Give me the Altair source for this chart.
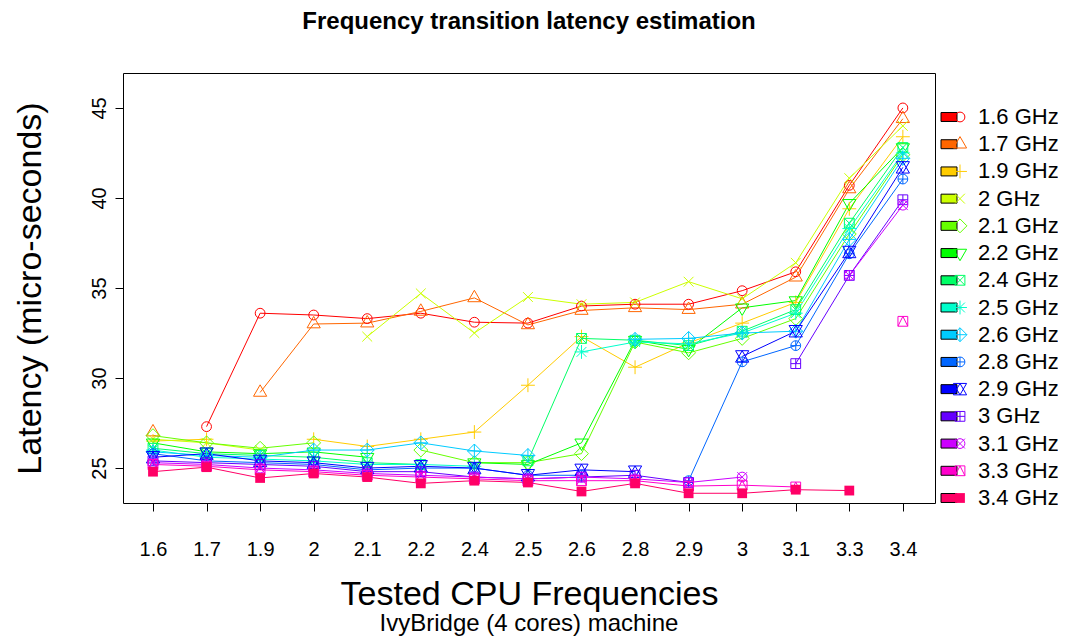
import json
import pandas as pd
import altair as alt

# ---------------- data ----------------
freq_labels = ["1.6", "1.7", "1.9", "2", "2.1", "2.2", "2.4", "2.5",
               "2.6", "2.8", "2.9", "3", "3.1", "3.3", "3.4"]
series_names = [f + " GHz" for f in freq_labels]

series_colors = ["#FF0000", "#FF6600", "#FFCC00", "#CCFF00", "#66FF00",
                 "#00FF00", "#00FF66", "#00FFCC", "#00CCFF", "#0066FF",
                 "#0000FF", "#6600FF", "#CC00FF", "#FF00CC", "#FF0066"]

# R pch 1..15 drawn as SVG paths (unit = symbol radius)
CIRC = "M1,0A1,1,0,1,1,-1,0A1,1,0,1,1,1,0Z"
series_shapes = [
    CIRC,                                                        # pch 1
    "M0,-1.555L1.347,0.778L-1.347,0.778Z",                        # pch 2
    "M-1.414,0H1.414M0,-1.414V1.414",                             # pch 3
    "M-1,-1L1,1M-1,1L1,-1",                                       # pch 4
    "M0,-1.414L1.414,0L0,1.414L-1.414,0Z",                        # pch 5
    "M0,1.555L1.347,-0.778L-1.347,-0.778Z",                       # pch 6
    "M-1,-1H1V1H-1ZM-1,-1L1,1M-1,1L1,-1",                         # pch 7
    "M-1,-1L1,1M-1,1L1,-1M-1.414,0H1.414M0,-1.414V1.414",         # pch 8
    "M0,-1.414L1.414,0L0,1.414L-1.414,0ZM-1.414,0H1.414M0,-1.414V1.414",  # pch 9
    CIRC + "M-1,0H1M0,-1V1",                                      # pch 10
    "M0,-1.166L1.347,1.166L-1.347,1.166ZM0,1.166L1.347,-1.166L-1.347,-1.166Z",  # pch 11
    "M-1,-1H1V1H-1ZM-1,0H1M0,-1V1",                               # pch 12
    CIRC + "M-1,-1L1,1M-1,1L1,-1",                                # pch 13
    "M-1,-1H1V1H-1ZM-1,1L0,-1L1,1",                               # pch 14
    "M-1,-1H1V1H-1Z",                                             # pch 15 (filled)
]

lat_1_6 = [None, 27.3, 33.6, 33.5, 33.3, 33.6, 33.1, 33.05, 34.0, 34.1, 34.1, 34.85, 35.9, 40.7, 45.0]
lat_1_7 = [27.0, None, 29.2, 33.0, 33.05, 33.7, 34.45, 32.95, 33.75, 33.9, 33.8, 34.1, 35.6, 40.5, 44.4]
lat_1_9 = [26.5, 26.6, None, 26.6, 26.2, 26.6, 27.0, 29.6, 32.3, 30.6, 31.95, 33.05, 34.2, 39.4, 43.4]
lat_2_0 = [26.6, 26.4, 26.0, None, 32.3, 34.7, 32.5, 34.5, 34.1, 34.2, 35.35, 34.4, 36.4, 41.1, 44.0]
lat_2_1 = [26.8, 26.4, 26.1, 26.4, None, 26.0, 25.3, 25.3, 25.8, 32.0, 31.4, 32.2, 33.3, 38.0, 42.4]
lat_2_2 = [26.4, 25.9, 25.8, 25.9, 25.6, None, 25.3, 25.2, 26.4, 32.1, 31.6, 33.9, 34.3, 39.7, 42.8]
lat_2_4 = [26.1, 25.8, 25.7, 25.6, 25.3, 25.2, None, 25.4, 32.2, 32.1, 31.8, 32.6, 33.8, 38.6, 42.8]
lat_2_5 = [26.0, 25.6, 25.5, 25.4, 25.2, 25.2, 25.1, None, 31.45, 32.0, 31.9, 32.5, 33.6, 38.3, 42.5]
lat_2_6 = [25.9, 25.7, 25.6, 26.0, 26.0, 26.4, 25.95, 25.7, None, 32.15, 32.2, 32.5, 32.6, 37.7, 42.2]
lat_2_8 = [25.8, 25.4, 25.3, 25.2, 24.9, 25.0, 25.0, 24.6, 24.6, None, 24.3, 30.9, 31.8, 36.9, 41.05]
lat_2_9 = [25.6, 25.8, 25.4, 25.3, 25.0, 25.1, 25.0, 24.6, 24.9, 24.8, None, 31.2, 32.6, 37.0, 41.7]
lat_3_0 = [25.4, 25.3, 25.2, 25.1, 24.8, 24.8, 24.5, 24.4, 24.5, 24.6, 24.2, None, 30.8, 35.7, 39.9]
lat_3_1 = [25.3, 25.2, 25.0, 24.9, 24.7, 24.6, 24.5, 24.4, 24.5, 24.4, 24.2, 24.5, None, 35.7, 39.6]
lat_3_3 = [25.2, 25.1, 24.9, 24.8, 24.6, 24.5, 24.4, 24.3, 24.3, 24.3, 24.0, 24.05, 23.95, None, 33.15]
lat_3_4 = [24.8, 25.05, 24.45, 24.7, 24.5, 24.15, 24.3, 24.2, 23.7, 24.15, 23.6, 23.6, 23.8, 23.75, None]

latency = [lat_1_6, lat_1_7, lat_1_9, lat_2_0, lat_2_1, lat_2_2, lat_2_4, lat_2_5,
           lat_2_6, lat_2_8, lat_2_9, lat_3_0, lat_3_1, lat_3_3, lat_3_4]

y_ticks = [25, 30, 35, 40, 45]

# ---------------- tables ----------------
rows = []
for si, (name, vals) in enumerate(zip(series_names, latency)):
    for xi, v in enumerate(vals):
        rows.append({"series": name, "sidx": si, "xi": xi, "latency": v})
df = pd.DataFrame(rows)
df_leg = pd.DataFrame({"series": series_names, "sidx": list(range(len(series_names)))})
df_sub = pd.DataFrame({"t": ["IvyBridge (4 cores) machine"]})

FONT = "Liberation Sans"
W, H = 812, 430
FILLED = series_names[-1]

cscale = alt.Scale(domain=series_names, range=series_colors)
sscale = alt.Scale(domain=series_names, range=series_shapes)

x_enc = alt.X(
    "xi:Q",
    scale=alt.Scale(domain=[-0.56, 14.6], nice=False, zero=False),
    axis=alt.Axis(
        values=list(range(len(freq_labels))),
        labelExpr=json.dumps(freq_labels) + "[datum.value]",
        title="Tested CPU Frequencies",
        titleFontSize=34, titleFontWeight="normal", titleFont=FONT,
        titleX=W / 2, titleY=91, titleAlign="center", titleBaseline="middle",
        labelFontSize=20, labelFont=FONT, labelPadding=28, tickSize=8,
        labelFlush=False, labelOverlap=False,
    ),
)
y_enc = alt.Y(
    "latency:Q",
    scale=alt.Scale(domain=[23.06, 46.94], nice=False, zero=False),
    axis=alt.Axis(
        values=y_ticks,
        title="Latency (micro-seconds)",
        titleFontSize=34, titleFontWeight="normal", titleFont=FONT,
        titleAngle=270, titleX=-93, titleY=H / 2, titleAlign="center",
        titleBaseline="middle",
        labelAngle=270, labelAlign="center", labelBaseline="bottom",
        labelFontSize=20, labelFont=FONT, labelPadding=6, tickSize=8,
        labelFlush=False,
    ),
)

lines = alt.Chart(df).mark_line(strokeWidth=1).encode(
    x=x_enc, y=y_enc,
    color=alt.Color("series:N", scale=cscale, legend=None),
    order=alt.Order("xi:Q"),
)
pts_open = alt.Chart(df).transform_filter(alt.datum.series != FILLED).mark_point(
    filled=False, opacity=1, strokeWidth=1, size=96
).encode(
    x=x_enc, y=y_enc,
    color=alt.Color("series:N", scale=cscale, legend=None),
    shape=alt.Shape("series:N", scale=sscale, legend=None),
    order=alt.Order("sidx:Q"),
)
pts_fill = alt.Chart(df).transform_filter(alt.datum.series == FILLED).mark_point(
    filled=True, opacity=1, size=96, shape=series_shapes[-1]
).encode(
    x=x_enc, y=y_enc,
    fill=alt.Fill("series:N", scale=cscale, legend=None),
)
main = alt.layer(lines, pts_open, pts_fill)

# ---------------- legend (R style) ----------------
leg_y = alt.Y("sidx:Q", scale=alt.Scale(domain=[0, 14], range=[44, 425]), axis=None)
RECT = "M-1,-0.56H1V0.56H-1Z"
leg_rect = alt.Chart(df_leg).mark_point(
    shape=RECT, filled=True, size=256, stroke="black", strokeWidth=1, opacity=1
).encode(
    x=alt.value(826), y=leg_y,
    fill=alt.Fill("series:N", scale=cscale, legend=None),
)
leg_sym = alt.Chart(df_leg).transform_filter(alt.datum.series != FILLED).mark_point(
    filled=False, opacity=1, strokeWidth=1, size=96
).encode(
    x=alt.value(837), y=leg_y,
    color=alt.Color("series:N", scale=cscale, legend=None),
    shape=alt.Shape("series:N", scale=sscale, legend=None),
)
leg_symf = alt.Chart(df_leg).transform_filter(alt.datum.series == FILLED).mark_point(
    filled=True, opacity=1, size=96, shape=series_shapes[-1]
).encode(
    x=alt.value(837), y=leg_y,
    fill=alt.Fill("series:N", scale=cscale, legend=None),
)
leg_text = alt.Chart(df_leg).mark_text(
    align="left", baseline="middle", fontSize=22, font=FONT, color="black"
).encode(x=alt.value(855), y=leg_y, text="series:N")
legend = alt.layer(leg_rect, leg_sym, leg_symf, leg_text)

sub = alt.Chart(df_sub).mark_text(
    align="center", baseline="middle", fontSize=24, font=FONT, color="black"
).encode(x=alt.value(W / 2), y=alt.value(H + 121), text="t:N")

chart = alt.layer(main, legend, sub).resolve_scale(y="independent").properties(
    width=W, height=H,
    title=alt.Title("Frequency transition latency estimation", fontSize=24,
                    fontWeight="bold", font=FONT, anchor="middle", offset=39,
                    color="black"),
    autosize=alt.AutoSizeParams(type="none"),
    padding={"left": 115, "top": 65, "right": 123, "bottom": 135},
).configure_view(stroke="black", strokeWidth=1).configure_axis(
    grid=False, domain=False, tickColor="black", labelColor="black",
    titleColor="black", tickWidth=1,
)

chart.save("out.html", embed_options={"renderer": "svg", "actions": False})
